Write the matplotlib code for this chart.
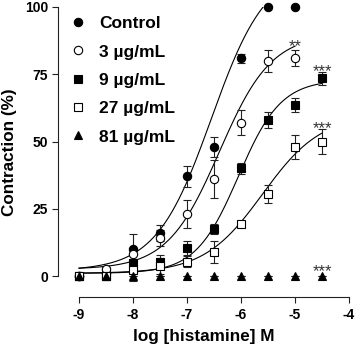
import numpy as np
import matplotlib
matplotlib.use('Agg')
import matplotlib.pyplot as plt

plt.rcParams['font.family'] = ['Liberation Sans', 'DejaVu Sans']

# log [histamine] M
log_conc = [-9, -8.5, -8, -7.5, -7, -6.5, -6, -5.5, -5, -4.5]

groups = ['Control', '3 µg/mL', '9 µg/mL', '27 µg/mL', '81 µg/mL']

# contraction (%), None = no point
control_mean = [0, 1, 10, 16, 37, 48, 81, 100, 100, None]
control_sem = [0, 0.5, 5.5, 3, 4, 3.7, 1.7, 0, 0, None]
c3_mean = [0, 2.5, 8, 14, 23, 36, 57, 80, 81, None]
c3_sem = [0, 1, 2, 3, 5.3, 7, 4.6, 4, 3, None]
c9_mean = [0, 0, 4.8, 5.3, 10.4, 17.5, 40, 58, 63.5, 73.5]
c9_sem = [0, 0, 3, 2.5, 2.5, 2, 2, 3, 2.6, 2.4]
c27_mean = [0, 0, 2.3, 3.7, 5.3, 9, 19.5, 30.5, 48, 50]
c27_sem = [0, 0, 4, 3, 2, 4, 1, 3.3, 4.6, 4.8]
c81_mean = [0, 0, 0, 0, 0, 0, 0, 0, 0, 0]
c81_sem = [0, 0, 0, 0, 0, 0, 0, 0, 0, 0]

# sigmoid fit parameters (bottom, top, logEC50, hill, last x)
fit_bottom = [2, 2.5, 1, 1]
fit_top = [115, 90, 73, 60]
fit_logec50 = [-6.55, -6.4, -6.05, -5.6]
fit_hill = [0.85, 0.9, 1.1, 0.8]
fit_end = [-5.0, -5.0, -4.5, -4.5]

# significance marks
star_text = ['**', '***', '***', '***']
star_x = [-5, -4.5, -4.5, -4.5]
star_y = [83.5, 74.3, 53.3, -0.1]

means = [control_mean, c3_mean, c9_mean, c27_mean, c81_mean]
sems = [control_sem, c3_sem, c9_sem, c27_sem, c81_sem]
markers = ['o', 'o', 's', 's', '^']
faces = ['black', 'white', 'black', 'white', 'black']
msizes = [6, 6, 5.4, 5.4, 5.6]

W, H = 358, 348
fig = plt.figure(figsize=(W / 100, H / 100), dpi=100)
ax = fig.add_axes([58 / W, 1 - 297 / H, (349 - 58) / W, (297 - 7) / H])
ax.set_xlim(-9.39, -4)
ax.set_ylim(-7.8, 100)

# fitted curves
for i in range(4):
    xs = np.linspace(-9, fit_end[i], 300)
    ys = fit_bottom[i] + (fit_top[i] - fit_bottom[i]) / (1 + 10 ** ((fit_logec50[i] - xs) * fit_hill[i]))
    ax.plot(xs, ys, color='black', lw=0.8, zorder=2)

handles = []
for m, s, mk, fc, ms, lab in zip(means, sems, markers, faces, msizes, groups):
    x = [xx for xx, yy in zip(log_conc, m) if yy is not None]
    y = [yy for yy in m if yy is not None]
    e = [ee for ee in s if ee is not None]
    ax.errorbar(x, y, yerr=e, fmt='none', ecolor='#222222', elinewidth=0.8,
                capsize=3.2, capthick=0.8, zorder=3, clip_on=False)
    h = ax.plot(x, y, linestyle='none', marker=mk, markersize=ms, markerfacecolor=fc,
                markeredgecolor='black', markeredgewidth=0.8, zorder=4, clip_on=False,
                label=lab)[0]
    handles.append(h)

for t, sx, sy in zip(star_text, star_x, star_y):
    ax.text(sx, sy, t, ha='center', va='baseline', fontsize=12, color='#333333')

ax.legend(handles=handles, loc='upper left', bbox_to_anchor=(69 / W, 1 - 16 / H),
          bbox_transform=fig.transFigure, frameon=False, borderpad=0, borderaxespad=0,
          handlelength=1.0, handletextpad=0.75, labelspacing=0.76, markerscale=1.0,
          prop={'weight': 'bold', 'size': 12.5})

for side in ['top', 'right']:
    ax.spines[side].set_visible(False)
ax.spines['left'].set_bounds(0, 100)
ax.spines['bottom'].set_bounds(-9, -4)
for side in ['left', 'bottom']:
    ax.spines[side].set_linewidth(0.8)
    ax.spines[side].set_color('#222222')

ax.set_xticks([-9, -8, -7, -6, -5, -4])
ax.set_xticklabels(['-9', '-8', '-7', '-6', '-5', '-4'])
ax.set_yticks([0, 25, 50, 75, 100])
ax.tick_params(axis='both', direction='out', length=4, width=0.8, color='#222222',
               labelsize=10, pad=3)
ax.tick_params(axis='x', pad=4)
for lbl in ax.get_xticklabels() + ax.get_yticklabels():
    lbl.set_fontweight('bold')

ax.set_xlabel('log [histamine] M', fontsize=12.3, fontweight='bold', labelpad=5)
ax.set_ylabel('Contraction (%)', fontsize=12.3, fontweight='bold', labelpad=6)

fig.savefig('out.png', dpi=100)
